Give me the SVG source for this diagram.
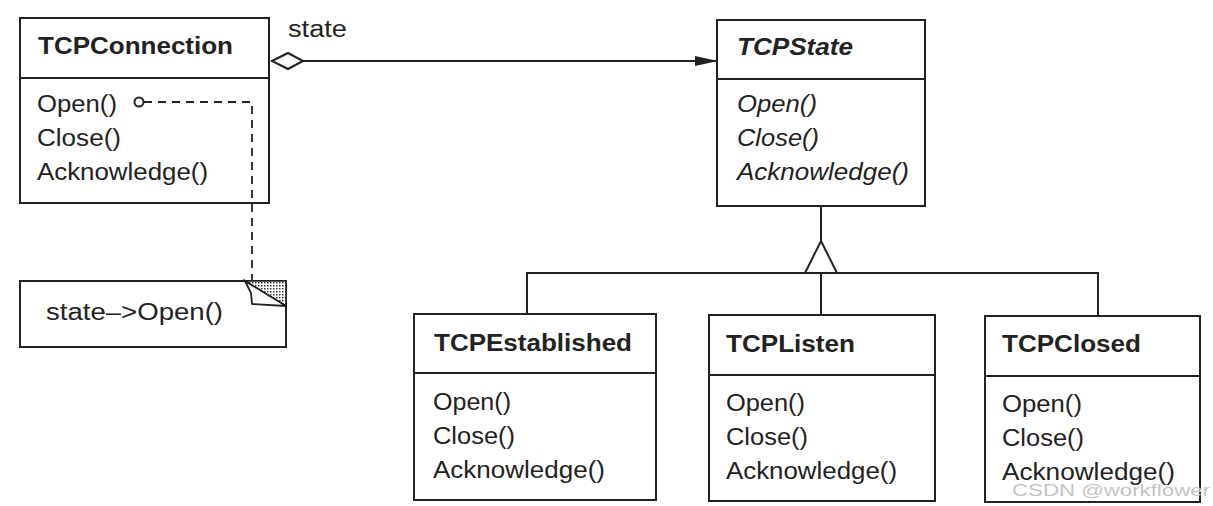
<svg xmlns="http://www.w3.org/2000/svg" width="1213" height="506" viewBox="0 0 1213 506">
<style>
.box{fill:#fff;stroke:#222;stroke-width:2}
.ln{fill:none;stroke:#222;stroke-width:2}
.t{font-family:"Liberation Sans",Arial,sans-serif;font-size:23px;fill:#222}
.b{font-weight:bold}
.i{font-style:italic}
.dash{fill:none;stroke:#222;stroke-width:1.8;stroke-dasharray:8 6}
</style>
<defs>
<marker id="arrow" markerWidth="24" markerHeight="12" refX="23" refY="6" orient="auto" markerUnits="userSpaceOnUse">
<path d="M0,1 L23,6 L0,11 Z" fill="#222"/>
</marker>
<pattern id="dots" width="3" height="3" patternUnits="userSpaceOnUse">
<rect width="3" height="3" fill="#fff"/>
<rect width="1.5" height="1.5" fill="#333"/>
</pattern>
</defs>
<rect width="1213" height="506" fill="#fff"/>

<g id="TCPConnection">
<rect class="box" x="20" y="18" width="249" height="185"/>
<line class="ln" x1="20" y1="78" x2="269" y2="78"/>
<text class="t b" x="38" y="54" textLength="195" lengthAdjust="spacingAndGlyphs">TCPConnection</text>
<text class="t" x="37" y="112" textLength="80" lengthAdjust="spacingAndGlyphs">Open()</text>
<text class="t" x="37" y="146" textLength="84" lengthAdjust="spacingAndGlyphs">Close()</text>
<text class="t" x="37" y="180" textLength="171" lengthAdjust="spacingAndGlyphs">Acknowledge()</text>
</g>

<g id="note">
<rect class="box" x="20" y="281" width="266" height="66"/>
<path d="M245,281 H286 V306 Z" fill="url(#dots)" stroke="#222" stroke-width="1.5"/>
<path d="M245,281 L251,293 L252,304 L286,306 Z" fill="#fff" stroke="#222" stroke-width="1.8"/>
<text class="t" x="46" y="320" textLength="177" lengthAdjust="spacingAndGlyphs">state–&gt;Open()</text>
</g>

<g id="TCPState">
<rect class="box" x="717" y="20" width="208" height="186"/>
<line class="ln" x1="717" y1="79" x2="925" y2="79"/>
<text class="t b i" x="737" y="55" textLength="116" lengthAdjust="spacingAndGlyphs">TCPState</text>
<text class="t i" x="737" y="112" textLength="80" lengthAdjust="spacingAndGlyphs">Open()</text>
<text class="t i" x="737" y="146" textLength="82" lengthAdjust="spacingAndGlyphs">Close()</text>
<text class="t i" x="737" y="180" textLength="172" lengthAdjust="spacingAndGlyphs">Acknowledge()</text>
</g>

<g id="TCPEstablished">
<rect class="box" x="414" y="314" width="242" height="186"/>
<line class="ln" x1="414" y1="373" x2="656" y2="373"/>
<text class="t b" x="434" y="351" textLength="198" lengthAdjust="spacingAndGlyphs">TCPEstablished</text>
<text class="t" x="433" y="410" textLength="78" lengthAdjust="spacingAndGlyphs">Open()</text>
<text class="t" x="433" y="444" textLength="82" lengthAdjust="spacingAndGlyphs">Close()</text>
<text class="t" x="433" y="478" textLength="172" lengthAdjust="spacingAndGlyphs">Acknowledge()</text>
</g>

<g id="TCPListen">
<rect class="box" x="709" y="315" width="226" height="186"/>
<line class="ln" x1="709" y1="375" x2="935" y2="375"/>
<text class="t b" x="726" y="352" textLength="129" lengthAdjust="spacingAndGlyphs">TCPListen</text>
<text class="t" x="726" y="411" textLength="79" lengthAdjust="spacingAndGlyphs">Open()</text>
<text class="t" x="726" y="445" textLength="82" lengthAdjust="spacingAndGlyphs">Close()</text>
<text class="t" x="726" y="479" textLength="171" lengthAdjust="spacingAndGlyphs">Acknowledge()</text>
</g>

<g id="TCPClosed">
<rect class="box" x="985" y="316" width="215" height="186"/>
<line class="ln" x1="985" y1="376" x2="1200" y2="376"/>
<text class="t b" x="1002" y="352" textLength="139" lengthAdjust="spacingAndGlyphs">TCPClosed</text>
<text class="t" x="1002" y="412" textLength="80" lengthAdjust="spacingAndGlyphs">Open()</text>
<text class="t" x="1002" y="446" textLength="82" lengthAdjust="spacingAndGlyphs">Close()</text>
<text class="t" x="1002" y="480" textLength="173" lengthAdjust="spacingAndGlyphs">Acknowledge()</text>
</g>

<g id="connectors">
<path class="ln" d="M303,61 H718" marker-end="url(#arrow)"/>
<path class="ln" d="M272,61 L288,53 L303,61 L288,69 Z" fill="#fff"/>
<text class="t" x="288" y="37" textLength="59" lengthAdjust="spacingAndGlyphs">state</text>
<path class="ln" d="M821,206 V241"/>
<path class="ln" d="M805,273 L821,241 L837,273"/>
<path class="ln" d="M527,314 V273 H1098 V316"/>
<path class="ln" d="M821,273 V315"/>
<circle cx="139" cy="102" r="4.5" class="ln" stroke-width="1.6"/>
<path class="dash" d="M144,102 H252 V281"/>
</g>

<text x="1012" y="496" font-family="'Liberation Sans',Arial,sans-serif" font-size="17" fill="#c4c4c4" textLength="198" lengthAdjust="spacingAndGlyphs">CSDN @workflower</text>
</svg>
